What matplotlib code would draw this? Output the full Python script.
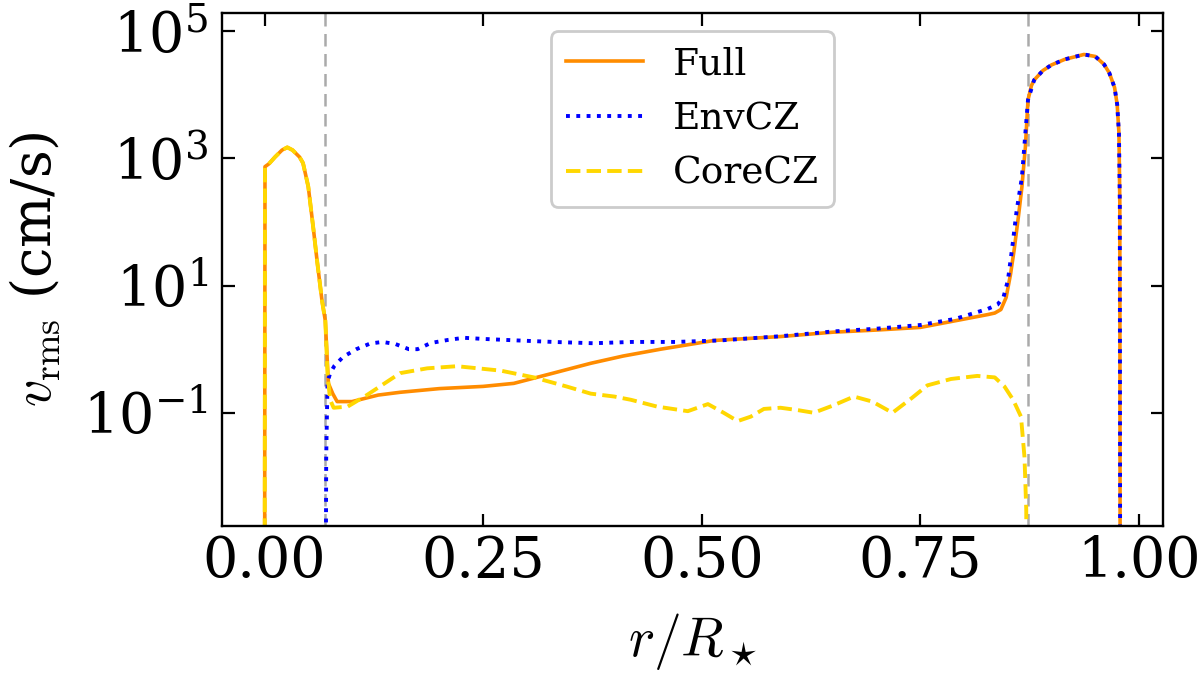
import numpy as np
import matplotlib
matplotlib.use("Agg")
import matplotlib.pyplot as plt

plt.rcParams['font.family'] = ['DejaVu Serif']
plt.rcParams['mathtext.fontset'] = 'cm'

# radius (r / R_star) and v_rms (cm/s)
r_full = [0.0, 0.0005, 0.005, 0.012, 0.02, 0.026, 0.032, 0.04, 0.044, 0.05,
          0.056, 0.06, 0.0657, 0.0695, 0.073, 0.078, 0.083, 0.1, 0.13, 0.155,
          0.2, 0.25, 0.285, 0.33, 0.373, 0.41, 0.453, 0.514, 0.59, 0.65,
          0.7, 0.75, 0.79, 0.827, 0.835, 0.842, 0.848, 0.853, 0.857, 0.862,
          0.866, 0.870, 0.873, 0.877, 0.88, 0.89, 0.9, 0.915, 0.937, 0.95,
          0.96, 0.966, 0.972, 0.975, 0.977, 0.978, 0.9785]
v_full = [1e-6, 740, 820, 1050, 1350, 1490, 1350, 1050, 844, 360,
          75, 25, 5.8, 2.8, 0.29, 0.2, 0.15, 0.15, 0.19, 0.21,
          0.24, 0.26, 0.29, 0.42, 0.6, 0.78, 1.0, 1.37, 1.58, 1.85,
          2.0, 2.2, 2.8, 3.5, 3.7, 4.2, 6.5, 15, 35, 120,
          350, 1500, 8300, 14000, 17000, 24000, 29500, 36000, 43000, 40000,
          30000, 22000, 13000, 7000, 2500, 200, 1e-6]

r_env = [0.0695, 0.0705, 0.072, 0.075, 0.08, 0.09, 0.105, 0.121, 0.135, 0.15,
         0.165, 0.175, 0.19, 0.21, 0.228, 0.25, 0.285, 0.33, 0.376, 0.42,
         0.47, 0.52, 0.59, 0.65, 0.7, 0.75, 0.79, 0.827, 0.838, 0.845,
         0.85, 0.855, 0.86, 0.866, 0.873, 0.88, 0.89, 0.9, 0.915, 0.937,
         0.95, 0.96, 0.966, 0.972, 0.975, 0.977, 0.978, 0.9785]
v_env = [1e-6, 0.02, 0.3, 0.42, 0.55, 0.76, 1.0, 1.23, 1.3, 1.2,
         1.0, 1.0, 1.25, 1.4, 1.51, 1.45, 1.38, 1.3, 1.24, 1.3,
         1.3, 1.37, 1.6, 1.9, 2.1, 2.4, 3.0, 4.3, 5.0, 6.6,
         12, 40, 150, 500, 8300, 17000, 24000, 29500, 36000, 43000,
         40000, 30000, 22000, 13000, 7000, 2500, 200, 1e-6]

r_core = [0.0, 0.0005, 0.005, 0.012, 0.02, 0.026, 0.032, 0.04, 0.044, 0.05,
          0.056, 0.06, 0.0657, 0.0695, 0.072, 0.075, 0.079, 0.095, 0.117, 0.155,
          0.186, 0.22, 0.27, 0.308, 0.345, 0.373, 0.4, 0.419, 0.449, 0.484,
          0.507, 0.525, 0.541, 0.556, 0.571, 0.59, 0.61, 0.628, 0.65, 0.674,
          0.695, 0.718, 0.74, 0.758, 0.785, 0.815, 0.835, 0.846, 0.856, 0.865,
          0.869, 0.871, 0.872]
v_core = [1e-6, 740, 820, 1050, 1350, 1490, 1350, 1050, 844, 360,
          75, 25, 5.8, 2.8, 0.4, 0.16, 0.12, 0.125, 0.19, 0.42,
          0.5, 0.54, 0.46, 0.36, 0.26, 0.2, 0.18, 0.16, 0.125, 0.106,
          0.137, 0.1, 0.074, 0.087, 0.115, 0.12, 0.11, 0.10, 0.13, 0.18,
          0.15, 0.10, 0.17, 0.27, 0.34, 0.38, 0.36, 0.26, 0.16, 0.087,
          0.02, 0.003, 1e-6]

boundaries = [0.0695, 0.8727]

fig = plt.figure(figsize=(12, 6.76), dpi=100)
ax = fig.add_axes([0.1848, 0.2219, 0.7844, 0.7593])

ax.plot(r_full, v_full, color='darkorange', lw=2.6, label='Full')
ax.plot(r_env, v_env, color='blue', lw=2.8, ls=':', label='EnvCZ')
ax.plot(r_core, v_core, color='gold', lw=2.8, ls='--', label='CoreCZ')
for b in boundaries:
    ax.axvline(b, color='#aaaaaa', lw=1.8, ls=(0, (5, 3)), zorder=0)

ax.set_yscale('log')
ax.set_ylim(1.66e-3, 1.95e5)
ax.set_yticks([1e-1, 1e1, 1e3, 1e5])
ax.yaxis.set_minor_locator(matplotlib.ticker.NullLocator())
ax.set_xticks([0.0, 0.25, 0.5, 0.75, 1.0])

ax.tick_params(direction='in', top=True, right=True, length=9, width=1.6,
               labelsize=40)
ax.tick_params(axis='x', pad=6)
ax.tick_params(axis='y', pad=10)
for s in ax.spines.values():
    s.set_linewidth(1.7)

ax.set_xlabel(r'$r/R_\star$', fontsize=40, labelpad=16)
ax.set_ylabel(r'$v_{\rm rms}$ (cm/s)', fontsize=39)
ax.yaxis.set_label_coords(-0.17, 0.5)

leg = ax.legend(loc='upper center', fontsize=27, handlelength=2.05,
                framealpha=1)
leg.get_frame().set_edgecolor('#cccccc')
leg.get_frame().set_linewidth(2)

fig.savefig('out.png', dpi=100)
